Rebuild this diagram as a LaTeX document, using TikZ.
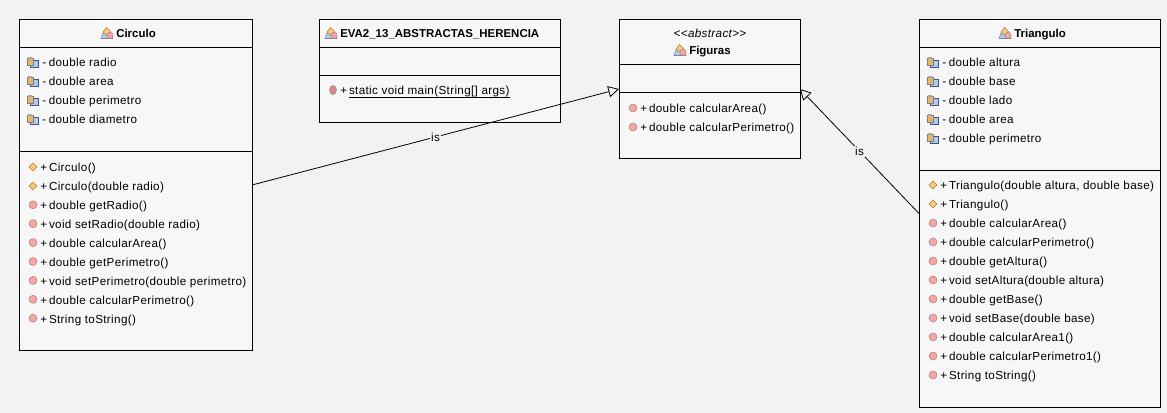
\documentclass[tikz,border=0pt]{standalone}
\usepackage{fontspec}
\setmainfont{Liberation Sans}
\newfontfamily\rowfont[LetterSpace=3]{Liberation Sans}
\usepackage{xcolor}
\usetikzlibrary{positioning}
\usetikzlibrary{arrows.meta}
\definecolor{pagegray}{HTML}{F2F2F2}
\definecolor{boxgray}{HTML}{F7F7F7}
\definecolor{methred}{HTML}{F4A6A6}
\definecolor{ctororange}{HTML}{F2CC80}
\definecolor{fieldblue}{HTML}{A9CFEF}
\tikzset{edge/.style = {-{Triangle[open,length=8pt,width=8.5pt]},line width=.6pt}}
\tikzset{classbox/.style = {draw,fill=boxgray,line width=.75pt,outer sep=0pt,inner sep=0pt}}
\tikzset{rowtext/.style = {anchor=west,inner sep=0pt,text height=7.2pt,text depth=1.3pt,font=\rowfont\fontsize{8.75pt}{10pt}\selectfont}}
\tikzset{titletext/.style = {anchor=west,inner sep=0pt,text height=7.2pt,text depth=1.3pt,font=\fontsize{8.6pt}{10pt}\selectfont\bfseries}}
\tikzset{
  methicon/.pic = {\fill[methred,draw=red!40!black!50,line width=.4pt] (0,0) circle (3pt);},
  ctoricon/.pic = {\fill[ctororange,draw=orange!70!black!80,line width=.4pt] (-4,0) -- (0,-4) -- (4,0) -- (0,4) -- cycle;},
  staticicon/.pic = {\fill[methred!85!black,draw=red!40!black!50,line width=.4pt] (0,0) ellipse (2.6pt and 3.4pt);},
  fieldicon/.pic = {
    \fill[fieldblue,draw=blue!40!black!70,line width=.4pt] (-2,-2) rectangle (6,5);
    \fill[ctororange!70!brown,draw=gray,line width=.4pt] (-5,-4) rectangle (1,3);
    \fill[gray!70] (-4,-5) rectangle (0,-3);},
  classicon/.pic = {
    \fill[fieldblue,draw=blue!40!black!50,line width=.4pt] (-6,5.5) -- (-4,0) -- (4,0) -- (6,5.5) -- cycle;
    \fill[ctororange,draw=orange!70!black!80,line width=.4pt] (-4,-1) -- (-.5,-5.5) -- (3.5,-1.5) -- (0,2.5) -- cycle;
    \fill[methred,draw=red!40!black!50,line width=.4pt] (3,2.5) circle (2.4pt);}
}

\begin{document}
\begin{tikzpicture}[x=.75pt,y=-.75pt]
    \useasboundingbox[fill=pagegray] (0,0) rectangle (1167,413);

    \node[classbox,minimum width=174.75pt,minimum height=248.25pt] (circulo) at (135.5,185) {};
    \node[classbox,minimum width=180.75pt,minimum height=77.25pt] (principal) at (439.5,71) {};
    \node[classbox,minimum width=135.75pt,minimum height=104.25pt] (figuras) at (709.5,89) {};
    \node[classbox,minimum width=180.75pt,minimum height=291pt] (triangulo) at (1039.5,213.5) {};

    % compartments
    \draw[line width=.75pt] ([yshift=-21pt]circulo.north west) -- ([yshift=-21pt]circulo.north east);
    \draw[line width=.75pt] ([yshift=-99pt]circulo.north west) -- ([yshift=-99pt]circulo.north east);
    \draw[line width=.75pt] ([yshift=-21pt]principal.north west) -- ([yshift=-21pt]principal.north east);
    \draw[line width=.75pt] ([yshift=-42pt]principal.north west) -- ([yshift=-42pt]principal.north east);
    \draw[line width=.75pt] ([yshift=-33.75pt]figuras.north west) -- ([yshift=-33.75pt]figuras.north east);
    \draw[line width=.75pt] ([yshift=-54.75pt]figuras.north west) -- ([yshift=-54.75pt]figuras.north east);
    \draw[line width=.75pt] ([yshift=-21pt]triangulo.north west) -- ([yshift=-21pt]triangulo.north east);
    \draw[line width=.75pt] ([yshift=-113.25pt]triangulo.north west) -- ([yshift=-113.25pt]triangulo.north east);

    % titles
    \node[titletext] (circulotitle) at (116,34) {Circulo};
    \pic at (107,33) {classicon};
    \node[titletext] (principaltitle) at (340,34) {EVA2\_13\_ABSTRACTAS\_HERENCIA};
    \pic at (331,33) {classicon};
    \node[rowtext,anchor=center,font=\rowfont\fontsize{8.75pt}{10pt}\selectfont\itshape] (figurasstereo) at (710,34) {<{}<abstract>{}>};
    \node[titletext] (figurastitle) at (689,51) {Figuras};
    \pic at (680,50) {classicon};
    \node[titletext] (triangulotitle) at (1014,34) {Triangulo};
    \pic at (1005,33) {classicon};

    % Circulo rows
    \foreach \txt [count=\i] in {double radio,double area,double perimetro,double diametro}{
        \pic at (32,{62+19*(\i-1)}) {fieldicon};
        \node[rowtext] (circulof\i) at (42,{63+19*(\i-1)}) {-\hspace{2pt}\txt};
    }
    \foreach \txt [count=\i] in {Circulo(),{Circulo(double radio)}}{
        \pic at (33,{167+18.9*(\i-1)}) {ctoricon};
        \node[rowtext] (circuloc\i) at (40,{168+18.9*(\i-1)}) {+\,\txt};
    }
    \foreach \txt [count=\i from 3] in {double getRadio(),void setRadio(double radio),double calcularArea(),double getPerimetro(),void setPerimetro(double perimetro),double calcularPerimetro(),String toString()}{
        \pic at (33,{167+18.9*(\i-1)}) {methicon};
        \node[rowtext] (circulom\i) at (40,{168+18.9*(\i-1)}) {+\,\txt};
    }

    % main
    \pic at (333,90) {staticicon};
    \node[rowtext] (principalm) at (340,91) {+\,\underline{\smash{static void main(String[] args)}}};

    % Figuras rows
    \foreach \txt [count=\i] in {double calcularArea(),double calcularPerimetro()}{
        \pic at (633,{108+19*(\i-1)}) {methicon};
        \node[rowtext] (figurasm\i) at (640,{109+19*(\i-1)}) {+\,\txt};
    }

    % Triangulo rows
    \foreach \txt [count=\i] in {double altura,double base,double lado,double area,double perimetro}{
        \pic at (932,{62+19*(\i-1)}) {fieldicon};
        \node[rowtext] (triangulof\i) at (942,{63+19*(\i-1)}) {-\hspace{2pt}\txt};
    }
    \foreach \txt [count=\i] in {{Triangulo(double altura, double base)},Triangulo()}{
        \pic at (933,{185+19*(\i-1)}) {ctoricon};
        \node[rowtext] (trianguloc\i) at (940,{186+19*(\i-1)}) {+\,\txt};
    }
    \foreach \txt [count=\i from 3] in {double calcularArea(),double calcularPerimetro(),double getAltura(),void setAltura(double altura),double getBase(),void setBase(double base),double calcularArea1(),double calcularPerimetro1(),String toString()}{
        \pic at (933,{185+19*(\i-1)}) {methicon};
        \node[rowtext] (triangulom\i) at (940,{186+19*(\i-1)}) {+\,\txt};
    }

    \path[edge] (circulo.east) edge node[fill=pagegray,inner sep=1pt,font=\rowfont\fontsize{8.75pt}{10pt}\selectfont] (circulois) {is} (figuras.west);
    \path[edge] (triangulo.west) edge node[fill=pagegray,inner sep=1pt,font=\rowfont\fontsize{8.75pt}{10pt}\selectfont] (trianguloois) {is} (figuras.east);
\end{tikzpicture}
\end{document}
